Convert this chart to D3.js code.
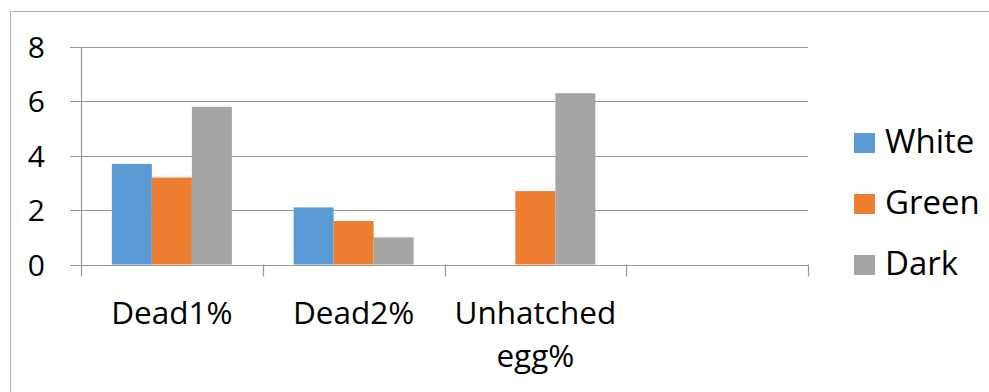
<!DOCTYPE html>
<html><head><meta charset="utf-8">
<script src="https://cdn.jsdelivr.net/npm/d3@7"></script>
<style>html,body{margin:0;padding:0;background:#fff;overflow:hidden}</style>
</head><body>
<svg id="c" width="989" height="392"></svg>
<script>
const categories = ["Dead1%", "Dead2%", "Unhatched egg%", ""];
const seriesNames = ["White", "Green", "Dark"];
const whiteValues = [3.7, 2.1, 0, null];
const greenValues = [3.2, 1.6, 2.7, null];
const darkValues = [5.8, 1.0, 6.3, null];
const yTicks = [0, 2, 4, 6, 8];
const colors = ["#5B9BD5", "#ED7D31", "#A5A5A5"];

const seriesValues = [whiteValues, greenValues, darkValues];
const FONT = "'Open Sans', sans-serif";
const svg = d3.select("#c");

// outer border
svg.append("rect").attr("x", 10.5).attr("y", 11.5).attr("width", 1200).attr("height", 600)
  .attr("fill", "none").attr("stroke", "#b4b4b4").attr("stroke-width", 1);

const plot = {left: 81, right: 808, top: 47, bottom: 264.5};
const x = d3.scaleBand().domain(categories).range([plot.left, plot.right]).padding(0);
const xs = d3.scaleBand().domain(seriesNames).range([0, x.bandwidth()]).paddingInner(0).paddingOuter(0.772);
const y = d3.scaleLinear().domain([0, 8]).range([plot.bottom, plot.top]);

// gridlines
const g = svg.append("g");
g.selectAll("line.grid").data(yTicks).enter().append("line")
  .attr("x1", plot.left - 11).attr("x2", plot.right)
  .attr("y1", d => Math.round(y(d)) + 0.5).attr("y2", d => Math.round(y(d)) + 0.5)
  .attr("stroke", "#979797").attr("stroke-width", 1.2);

// y axis line
g.append("line").attr("x1", plot.left + 0.5).attr("x2", plot.left + 0.5)
  .attr("y1", plot.top).attr("y2", plot.bottom).attr("stroke", "#979797").attr("stroke-width", 1.2);

// x category ticks
const bounds = categories.map(c => x(c)).concat([plot.right]);
g.selectAll("line.xt").data(bounds).enter().append("line")
  .attr("x1", d => Math.round(d) + 0.5).attr("x2", d => Math.round(d) + 0.5)
  .attr("y1", plot.bottom).attr("y2", plot.bottom + 12)
  .attr("stroke", "#979797").attr("stroke-width", 1.2);

// bars
seriesNames.forEach((s, si) => {
  svg.append("g").selectAll("rect").data(categories.map((c, i) => ({c, v: seriesValues[si][i]})).filter(d => d.v != null && d.v > 0))
    .enter().append("rect")
    .attr("x", d => x(d.c) + xs(s))
    .attr("width", xs.bandwidth())
    .attr("y", d => y(d.v))
    .attr("height", d => y(0) - y(d.v))
    .attr("fill", colors[si]);
});

// y tick labels
svg.append("g").selectAll("text").data(yTicks).enter().append("text")
  .attr("x", 45).attr("y", d => y(d) + 11)
  .attr("text-anchor", "end")
  .style("font-family", FONT).style("font-size", "30px").attr("fill", "#000")
  .text(d => d);

// category labels
const cl = svg.append("g").selectAll("text").data(categories).enter().append("text")
  .attr("x", d => x(d) + x.bandwidth() / 2).attr("y", 324)
  .attr("text-anchor", "middle")
  .style("font-family", FONT).style("font-size", "31.5px").attr("fill", "#000");
cl.each(function(d) {
  const words = d.split(" ");
  const t = d3.select(this);
  words.forEach((w, i) => {
    t.append("tspan").attr("x", x(d) + x.bandwidth() / 2).attr("dy", i === 0 ? 0 : 43).text(w);
  });
});

// legend
const leg = svg.append("g").selectAll("g").data(seriesNames).enter().append("g")
  .attr("transform", (d, i) => `translate(854, ${133 + i * 61})`);
leg.append("rect").attr("width", 21).attr("height", 20).attr("fill", (d, i) => colors[i]);
leg.append("text").attr("x", 31).attr("y", 20)
  .style("font-family", FONT).style("font-size", "33px").attr("fill", "#000")
  .text(d => d);
</script>
</body></html>
